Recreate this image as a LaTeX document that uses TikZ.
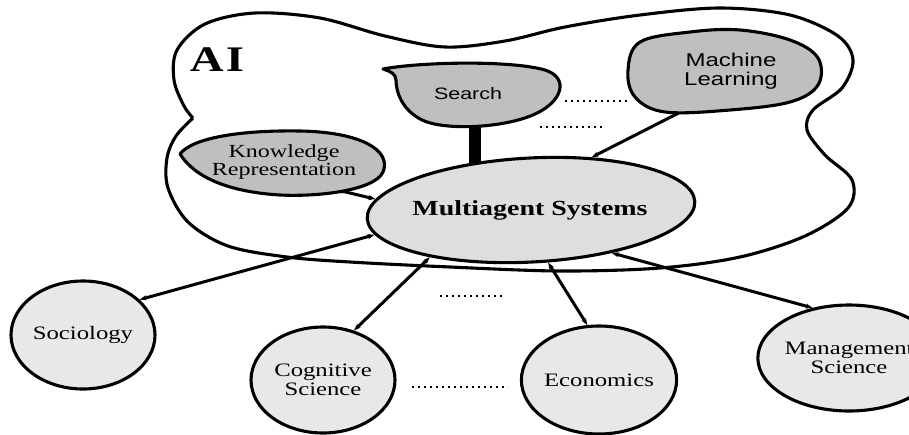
\documentclass[tikz,border=0pt]{standalone}
\usepackage{fontspec}
\setmainfont[FakeStretch=1.3]{Liberation Serif}
\newfontfamily\sanswide[FakeStretch=1.3]{Liberation Sans}
\usetikzlibrary{shapes.geometric,arrows.meta,backgrounds}
\tikzset{
  outline/.style={draw=black, line width=3.1pt, line join=round},
  blobfill/.style={fill=black!25},
  circ/.style={ellipse, draw=black, line width=3.1pt, fill=black!9,
    minimum width=144pt, minimum height=108pt, inner sep=0pt, align=center,
    font=\fontsize{19}{18.5}\selectfont},
  anchorshape/.style={ellipse, inner sep=0pt, align=center},
  link/.style={line width=3pt,
    {Stealth[length=7pt,width=5pt]}-{Stealth[length=7pt,width=5pt]}},
  dotline/.style={line width=2pt, dash pattern=on 2pt off 4pt},
  bar/.style={line width=12pt}
}
\begin{document}
\begin{tikzpicture}[x=1pt,y=-1pt]
\useasboundingbox (0,0) rectangle (909,434);
\clip (0,0) rectangle (909,434);

% custom blob shapes
\filldraw[outline, blobfill] (383,69) .. controls (420,62) and (510,60) .. (545,70)
  .. controls (570,78) and (562,102) .. (535,114)
  .. controls (505,128) and (445,131) .. (422,120)
  .. controls (402,110) and (396,92) .. (396,80)
  .. controls (396,74) and (390,71) .. (383,69) -- cycle;
\filldraw[outline, blobfill] (180,154) .. controls (192,138) and (240,130) .. (300,131)
  .. controls (360,132) and (392,150) .. (383,172)
  .. controls (375,190) and (320,197) .. (280,195)
  .. controls (230,192) and (195,178) .. (180,154) -- cycle;
\filldraw[outline, blobfill] plot[smooth cycle, tension=0.6] coordinates {
  (628,70) (640,42) (690,32) (740,30) (790,40) (818,58) (818,85) (790,102)
  (730,110) (665,112) (635,97)};

% nodes
\node[font=\fontsize{36}{36}\selectfont\bfseries] (ai) at (217,60) {A\kern2pt I};
\node[anchorshape, minimum width=170pt, minimum height=62pt,
  font=\sanswide\fontsize{16.5}{18}\selectfont] (search) at (468,94) {Search};
\node[anchorshape, minimum width=204pt, minimum height=64pt,
  font=\fontsize{18.5}{18}\selectfont] (kr) at (284,162) {Knowledge\\Representation};
\node[anchorshape, minimum width=194pt, minimum height=82pt,
  font=\sanswide\fontsize{18.5}{19}\selectfont] (ml) at (731,71) {Machine\\Learning};
\node[ellipse, draw=black, line width=3.1pt, fill=black!13, inner sep=0pt,
  minimum width=328pt, minimum height=104pt, rotate=3] (mas) at (531,210) {};
\node[font=\fontsize{21.5}{22}\selectfont\bfseries] (mastext) at (530,210) {Multiagent Systems};
\node[circ] (soc) at (83,335) {Sociology};
\node[circ, minimum height=106pt] (cog) at (323,380) {Cognitive\\Science};
\node[circ] (econ) at (599,380) {Economics};
\node[circ, minimum height=106pt] (mgmt) at (849,358) {Management\\Science};

% background: AI region and connectors
\begin{scope}[on background layer]
\draw[outline] plot[smooth, tension=0.55] coordinates {
  (193,118) (184,106) (174,80) (177,50) (205,24) (255,13) (320,18) (385,36)
  (445,47) (505,41) (565,27) (640,15) (720,8) (790,15) (838,36) (853,60)
  (842,88) (813,110) (807,130) (825,155) (852,180) (848,208) (805,236)
  (740,257) (660,268) (560,271) (450,267) (350,262) (287,257) (228,246)
  (188,222) (168,188) (167,158) (176,136) (193,118)};
\draw[bar] ([xshift=7pt]search.south) -- ([xshift=7pt]search.south |- mas.center);
\draw[link] (mas.186) -- (soc.32);
\draw[link] (mas.202) -- (cog.58);
\draw[link] (mas.285) -- (econ.102);
\draw[link] (mas.329) -- (mgmt.126);
\draw[link] (mas.173) -- (kr.-28);
\draw[link] (mas.38) -- (ml.221);
\end{scope}

% ellipsis marks
\draw[dotline] (565,101) -- (630,101);
\draw[dotline] (540,127) -- (605,127);
\draw[dotline] (440,296) -- (505,296);
\draw[dotline] (412,387) -- (508,387);
\end{tikzpicture}
\end{document}
